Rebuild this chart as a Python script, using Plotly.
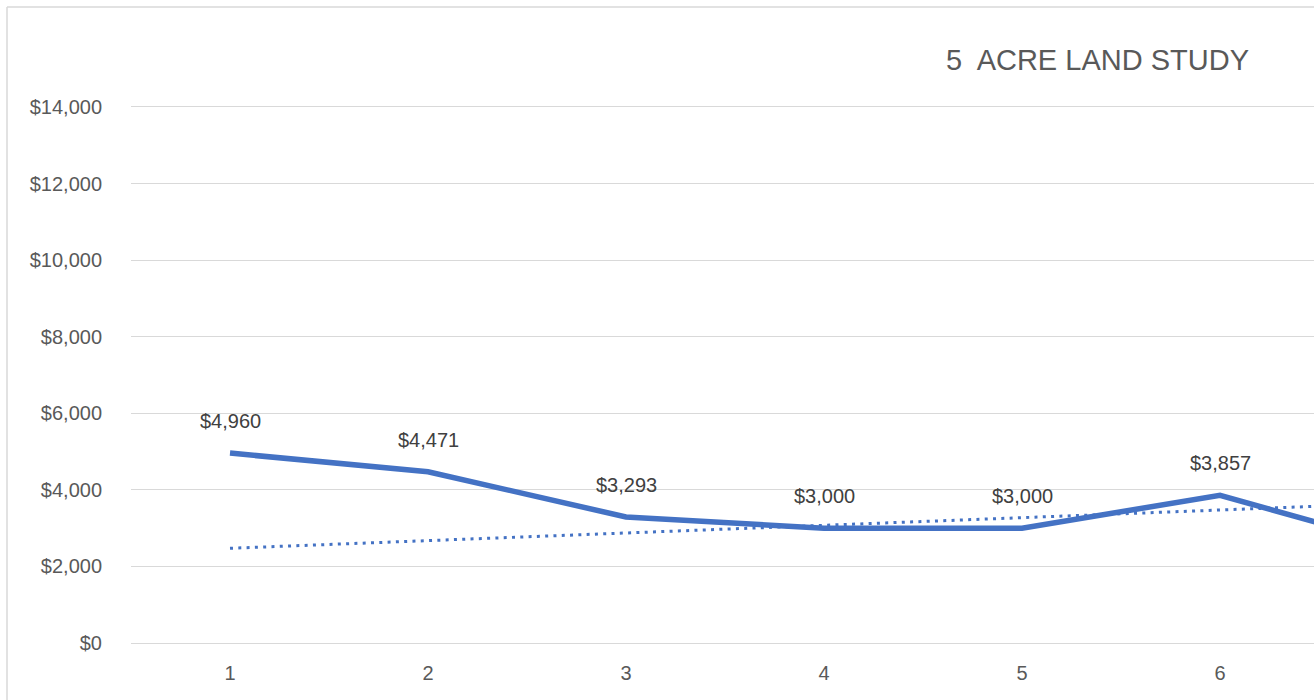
import plotly.graph_objects as go

# Data (category 7 lies just beyond the visible right edge)
categories = [1, 2, 3, 4, 5, 6, 7]
prices = [4960, 4471, 3293, 3000, 3000, 3857, 2410]
label_values = [4960, 4471, 3293, 3000, 3000, 3857]
trend_x = [1, 7]
trend_y = [2474, 3674]
y_ticks = [0, 2000, 4000, 6000, 8000, 10000, 12000, 14000]
x_ticks = [1, 2, 3, 4, 5, 6, 7]
title_text = "5  ACRE LAND STUDY"

BLUE = "#4472C4"
GRID = "#d9d9d9"
TXT = "#595959"
FONT = "Liberation Sans, Arial, sans-serif"

fig = go.Figure()
fig.add_trace(go.Scatter(
    x=categories, y=prices, mode="lines",
    line=dict(color=BLUE, width=5.5),
    hoverinfo="skip", showlegend=False,
))
fig.add_trace(go.Scatter(
    x=trend_x, y=trend_y, mode="lines",
    line=dict(color=BLUE, width=3, dash="3px,5.3px"),
    hoverinfo="skip", showlegend=False,
))

W, H = 1314, 700
L, R, T, B = 131, 0, 107, 57
pw, ph = W - L - R, H - T - B

annotations = []
for c, v in zip(categories, label_values):
    annotations.append(dict(
        x=c, y=v, xref="x", yref="y", text="$" + format(v, ","),
        showarrow=False, yshift=32,
        font=dict(family=FONT, size=20, color="#404040"),
    ))
annotations.append(dict(
    x=(1097 - L) / pw, y=(H - B - 60) / ph, xref="paper", yref="paper",
    text=title_text, showarrow=False, xanchor="center", yanchor="middle",
    font=dict(family=FONT, size=29, color=TXT),
))

bx = (7 - L) / pw
by = (H - B - 7) / ph
shapes = [
    dict(type="line", xref="paper", yref="paper", x0=bx, x1=bx, y0=-1, y1=by,
         line=dict(color=GRID, width=1.5)),
    dict(type="line", xref="paper", yref="paper", x0=bx, x1=1.5, y0=by, y1=by,
         line=dict(color=GRID, width=1.5)),
]

fig.update_layout(
    width=W, height=H,
    margin=dict(l=L, r=R, t=T, b=B, pad=0),
    paper_bgcolor="white", plot_bgcolor="white",
    annotations=annotations, shapes=shapes,
    xaxis=dict(
        range=[0.5, 0.5 + pw / 198.0],
        tickvals=x_ticks, ticktext=[str(t) for t in x_ticks],
        showgrid=False, zeroline=False,
        showline=True, mirror=True, linecolor=GRID, linewidth=1.3,
        tickfont=dict(family=FONT, size=20, color=TXT),
        ticks="", ticklabelstandoff=12,
    ),
    yaxis=dict(
        range=[0, 14000], tickvals=y_ticks,
        ticktext=["$" + format(t, ",") for t in y_ticks],
        showgrid=True, gridcolor=GRID, gridwidth=1.3,
        zeroline=False, showline=False,
        tickfont=dict(family=FONT, size=20, color=TXT),
        ticks="", ticklabelstandoff=28,
    ),
)

fig.write_html("out.html", config={"displayModeBar": False})
